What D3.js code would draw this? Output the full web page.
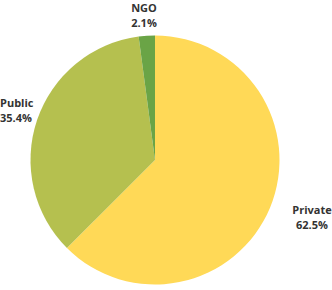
<!DOCTYPE html>
<html><head><meta charset="utf-8">
<script src="https://cdn.jsdelivr.net/npm/d3@7"></script>
<style>html,body{margin:0;padding:0;background:#fff;}svg{display:block;}</style>
</head><body>
<svg id="c" width="332" height="290"></svg>
<script>
const categories = ["Private", "Public", "NGO"];
const values = [62.5, 35.4, 2.1];
const colors = ["#FFD957", "#B5C04F", "#6AA446"];

const svg = d3.select("#c");
const cx = 155, cy = 160, r = 124.5;
const g = svg.append("g").attr("transform", `translate(${cx},${cy})`);
const pie = d3.pie().sort(null).value(d => d.v);
const data = pie(categories.map((c, i) => ({c, v: values[i], col: colors[i]})));
const arc = d3.arc().innerRadius(0).outerRadius(r);
g.selectAll("path").data(data).join("path")
  .attr("d", arc).attr("fill", d => d.data.col);

const labelPos = {
  "Private": {x: 312, y: 214, anchor: "middle"},
  "Public": {x: 0, y: 107, anchor: "start"},
  "NGO": {x: 144, y: 12, anchor: "middle"}
};
data.forEach(d => {
  const p = labelPos[d.data.c];
  const t = svg.append("text").attr("x", p.x).attr("y", p.y)
    .attr("text-anchor", p.anchor)
    .attr("font-family", "'Open Sans', sans-serif")
    .attr("font-weight", "bold").attr("font-size", 11).attr("fill", "#333");
  t.append("tspan").attr("x", p.x).text(d.data.c);
  t.append("tspan").attr("x", p.x).attr("dy", 15).text(d3.format(".1f")(d.data.v) + "%");
});
</script>
</body></html>
